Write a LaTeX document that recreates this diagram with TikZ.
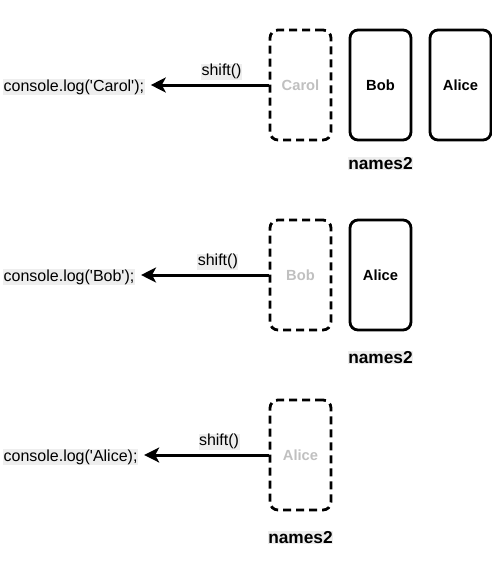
\documentclass[tikz,border=0pt]{standalone}
\usepackage{fontspec}
\setmainfont{Liberation Sans}[Ligatures=TeXOff]
\usetikzlibrary{positioning,arrows.meta}
\definecolor{faded}{HTML}{C0C0C0}
\definecolor{labelbg}{HTML}{EEEEEE}

\tikzset{
  item/.style={draw, line width=2.8pt, rounded corners=8pt, minimum width=61pt,
    minimum height=110pt, font=\fontsize{14.7}{17}\selectfont\bfseries},
  gone/.style={item, dash pattern=on 8pt off 5pt, text=faded},
  code/.style={fill=labelbg, inner xsep=0.5pt, inner ysep=0.5pt, font=\fontsize{16}{19}\selectfont},
  arrname/.style={code, font=\fontsize{17.3}{20}\selectfont\bfseries},
  pull/.style={-{Stealth[length=15pt,width=15pt,inset=4pt]}, line width=3pt, shorten >=6pt},
}

\begin{document}
\begin{tikzpicture}[x=1pt,y=-1pt]
\useasboundingbox (0,0) rectangle (492,570);
% first shift
\node[gone] (carolA) at (300.5,85) {Carol};
\node[item, right=16.2pt of carolA] (bobA) {Bob};
\node[item, right=16.2pt of bobA] (aliceA) {Alice};
\node[arrname, below=15pt of bobA] (namesA) {names2};
\node[code, anchor=west] (logA) at (3,87) {console.log('Carol');};
\draw[pull] (carolA.west) -- (carolA.west -| logA.east)
  node[code, pos=0.38, above=4pt] (shiftA) {shift()};
% second shift
\node[gone] (bobB) at (300.5,275) {Bob};
\node[item, right=16.2pt of bobB] (aliceB) {Alice};
\node[arrname, below=19pt of aliceB] (namesB) {names2};
\node[code, anchor=west] (logB) at (3,277) {console.log('Bob');};
\draw[pull] (bobB.west) -- (bobB.west -| logB.east)
  node[code, pos=0.38, above=4pt] (shiftB) {shift()};
% third shift
\node[gone] (aliceC) at (300.5,455) {Alice};
\node[arrname, below=19pt of aliceC] (namesC) {names2};
\node[code, anchor=west] (logC) at (3,457) {console.log('Alice);};
\draw[pull] (aliceC.west) -- (aliceC.west -| logC.east)
  node[code, pos=0.38, above=4pt] (shiftC) {shift()};
\end{tikzpicture}
\end{document}
